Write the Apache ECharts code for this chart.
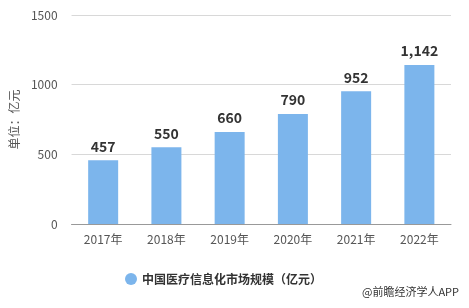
<!DOCTYPE html>
<html><head><meta charset="utf-8">
<script src="https://cdn.jsdelivr.net/npm/echarts@6/dist/echarts.min.js"></script>
<style>html,body{margin:0;padding:0;background:#fff}#c{width:469px;height:308px}</style>
</head><body><div id="c"></div>
<script>
const categories = ['2017年','2018年','2019年','2020年','2021年','2022年'];
const values = [457, 550, 660, 790, 952, 1142];
const yTicks = [0, 500, 1000, 1500];
const seriesName = '中国医疗信息化市场规模（亿元）';
const yName = '单位：亿元';
const source = '@前瞻经济学人APP';

const chart = echarts.init(document.getElementById('c'));
chart.setOption({
  animation: false,
  textStyle: { fontFamily: '"Noto Sans CJK SC", "Noto Sans", sans-serif' },
  grid: { left: 71, right: 18, top: 15, bottom: 84 },
  legend: {
    data: [{ name: seriesName, icon: 'circle' }],
    left: 120, top: 268, itemWidth: 12, itemHeight: 12, itemGap: 7,
    textStyle: { fontSize: 12, fontWeight: 'bold', color: '#333' }
  },
  graphic: [{
    type: 'text', right: 10, top: 286,
    style: { text: source, fontSize: 11, fill: '#333', fontFamily: '"Noto Sans CJK SC", sans-serif' }
  }],
  xAxis: {
    type: 'category', data: categories,
    axisLine: { lineStyle: { color: '#999' } },
    axisTick: { alignWithLabel: true, lineStyle: { color: '#999' } },
    axisLabel: { color: '#555', fontSize: 12, margin: 9 }
  },
  yAxis: {
    type: 'value', min: yTicks[0], max: yTicks[yTicks.length - 1], interval: 500,
    name: yName, nameLocation: 'middle', nameGap: 37, nameRotate: 90,
    nameTextStyle: { color: '#555', fontSize: 12 },
    axisLine: { show: false }, axisTick: { show: false },
    axisLabel: { color: '#555', fontSize: 12, margin: 14, formatter: v => String(v) },
    splitLine: { lineStyle: { color: '#d8d8d8' } }
  },
  series: [{
    name: seriesName, type: 'bar', data: values, barWidth: 30,
    itemStyle: { color: '#7cb5ec' },
    label: {
      show: true, position: 'top', distance: 7,
      fontSize: 14, fontWeight: 'bold', color: '#333',
      formatter: p => p.value.toLocaleString('en-US')
    }
  }]
});
</script></body></html>
